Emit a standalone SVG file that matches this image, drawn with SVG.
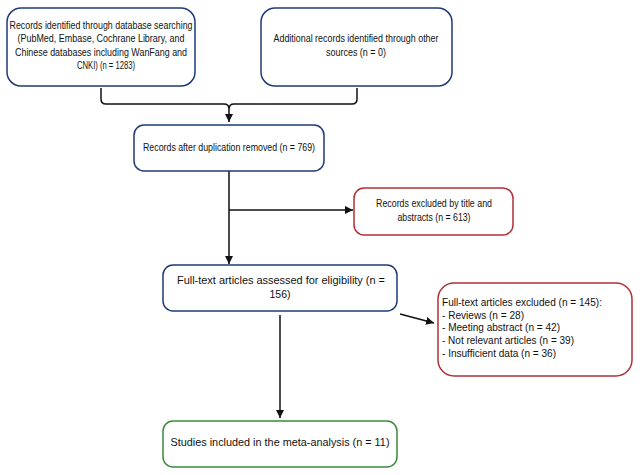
<svg xmlns="http://www.w3.org/2000/svg" width="640" height="475" viewBox="0 0 640 475">
<style>
text{font-family:"Liberation Sans",Arial,sans-serif;font-size:10.5px;fill:#111}
.b{fill:#fff;stroke:#1f3a7a;stroke-width:1.5}
.r{fill:#fff;stroke:#b03036;stroke-width:1.5}
.g{fill:#fff;stroke:#3a8a3a;stroke-width:1.5}
.c{fill:none;stroke:#111;stroke-width:1.5}
.m{text-anchor:middle}
</style>
<defs><marker id="a" viewBox="0 0 10 10" refX="10" refY="5" markerWidth="8" markerHeight="8" markerUnits="userSpaceOnUse" orient="auto"><path d="M0,0L10,5L0,10z" fill="#111"/></marker></defs>
<rect width="640" height="475" fill="#fff"/>
<g id="connectors">
<path class="c" d="M101,88V99Q101,104,106,104H224Q229,104,229,109M357,88V99Q357,104,352,104H234Q229,104,229,109V122" marker-end="url(#a)"/>
<path class="c" d="M229,171V264" marker-end="url(#a)"/>
<path class="c" d="M229,210H353" marker-end="url(#a)"/>
<path class="c" d="M400,314L434,323" marker-end="url(#a)"/>
<path class="c" d="M280,315V418" marker-end="url(#a)"/>
</g>
<g id="n1"><rect class="b" x="7" y="8" width="188" height="78" rx="14"/>
<text class="m" x="101" y="29" textLength="183" lengthAdjust="spacingAndGlyphs">Records identified through database searching</text>
<text class="m" x="101" y="42" textLength="167" lengthAdjust="spacingAndGlyphs">(PubMed, Embase, Cochrane Library, and</text>
<text class="m" x="101" y="56" textLength="172" lengthAdjust="spacingAndGlyphs">Chinese databases including WanFang and</text>
<text class="m" x="106" y="69" textLength="58" lengthAdjust="spacingAndGlyphs">CNKI) (n = 1283)</text></g>
<g id="n2"><rect class="b" x="261" y="8" width="191" height="78" rx="14"/>
<text class="m" x="356" y="42" textLength="165" lengthAdjust="spacingAndGlyphs">Additional records identified through other</text>
<text class="m" x="356" y="56" textLength="60" lengthAdjust="spacingAndGlyphs">sources (n = 0)</text></g>
<g id="n3"><rect class="b" x="134" y="125" width="190" height="46" rx="10"/>
<text class="m" x="229" y="151" textLength="172" lengthAdjust="spacingAndGlyphs">Records after duplication removed (n = 769)</text></g>
<g id="n4"><rect class="r" x="354" y="188" width="159" height="47" rx="10"/>
<text class="m" x="434" y="207" textLength="116" lengthAdjust="spacingAndGlyphs">Records excluded by title and</text>
<text class="m" x="434" y="221" textLength="73" lengthAdjust="spacingAndGlyphs">abstracts (n = 613)</text></g>
<g id="n5"><rect class="b" x="163" y="265" width="234" height="46" rx="10"/>
<text class="m" x="281" y="284" textLength="208" lengthAdjust="spacingAndGlyphs">Full-text articles assessed for eligibility (n =</text>
<text class="m" x="280" y="298" textLength="21" lengthAdjust="spacingAndGlyphs">156)</text></g>
<g id="n6"><rect class="r" x="438" y="283" width="194" height="93" rx="16"/>
<text x="442" y="306" textLength="160" lengthAdjust="spacingAndGlyphs">Full-text articles excluded (n = 145):</text>
<text x="442" y="319" textLength="82" lengthAdjust="spacingAndGlyphs">- Reviews (n = 28)</text>
<text x="442" y="331" textLength="118" lengthAdjust="spacingAndGlyphs">- Meeting abstract (n = 42)</text>
<text x="442" y="344" textLength="132" lengthAdjust="spacingAndGlyphs">- Not relevant articles (n = 39)</text>
<text x="442" y="357" textLength="114" lengthAdjust="spacingAndGlyphs">- Insufficient data (n = 36)</text></g>
<g id="n7"><rect class="g" x="163" y="421" width="234" height="46" rx="10"/>
<text class="m" x="280" y="446" textLength="219" lengthAdjust="spacingAndGlyphs">Studies included in the meta-analysis (n = 11)</text></g>
</svg>
